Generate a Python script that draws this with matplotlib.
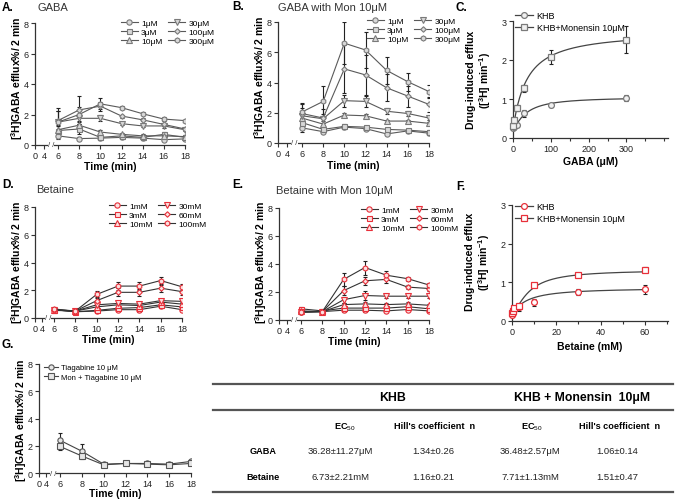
import numpy as np
import matplotlib
matplotlib.use('Agg')
import matplotlib.pyplot as plt
from matplotlib.lines import Line2D
from matplotlib.transforms import blended_transform_factory

plt.rcParams['font.family'] = ['Liberation Sans', 'DejaVu Sans']
plt.rcParams['mathtext.fontset'] = 'custom'
plt.rcParams['mathtext.rm'] = 'Liberation Sans'
plt.rcParams['mathtext.bf'] = 'Liberation Sans:bold'
plt.rcParams['mathtext.it'] = 'Liberation Sans:italic'

W, H = 676, 502

# ---------------- data ----------------
time = [6, 8, 10, 12, 14, 16, 18]
time_ticks = [0, 4, 6, 8, 10, 12, 14, 16, 18]

gaba_labels = ['1μM', '3μM', '10μM', '30μM', '100μM', '300μM']
# panel A: GABA (KHB)
gaba_khb = [
    [0.60, 0.42, 0.45, 0.50, 0.45, 0.35, 0.40],
    [0.95, 1.05, 0.50, 0.60, 0.50, 0.70, 0.50],
    [1.00, 1.30, 0.85, 0.70, 0.60, 0.60, 0.55],
    [1.50, 1.75, 1.75, 1.40, 1.25, 1.25, 1.00],
    [1.60, 2.30, 2.55, 1.90, 1.65, 1.35, 1.05],
    [1.50, 2.00, 2.70, 2.45, 2.05, 1.70, 1.60],
]
gaba_khb_err = [
    [0.20, 0.10, 0.10, 0.10, 0.10, 0.10, 0.10],
    [0.30, 0.30, 0.10, 0.10, 0.10, 0.15, 0.10],
    [0.30, 0.30, 0.15, 0.10, 0.10, 0.10, 0.10],
    [0.70, 0.50, 0.20, 0.10, 0.10, 0.15, 0.10],
    [0.80, 0.90, 0.30, 0.10, 0.10, 0.10, 0.05],
    [0.70, 0.50, 0.35, 0.10, 0.10, 0.15, 0.05],
]
# panel B: GABA with monensin
gaba_mon = [
    [1.00, 0.75, 1.05, 0.95, 0.60, 0.80, 0.65],
    [1.35, 0.90, 1.10, 1.05, 0.90, 0.85, 0.75],
    [1.65, 1.25, 1.85, 1.80, 1.45, 1.45, 1.30],
    [1.80, 1.60, 2.80, 2.75, 2.10, 1.95, 1.65],
    [1.95, 1.65, 4.90, 4.50, 3.65, 3.10, 2.55],
    [2.05, 2.75, 6.60, 6.15, 4.80, 4.05, 3.40],
]
gaba_mon_err = [
    [0.25, 0.10, 0.15, 0.10, 0.10, 0.10, 0.10],
    [0.30, 0.15, 0.15, 0.10, 0.10, 0.10, 0.10],
    [0.40, 0.20, 0.15, 0.15, 0.10, 0.10, 0.10],
    [0.50, 0.30, 0.40, 0.35, 0.20, 0.15, 0.10],
    [0.60, 0.60, 1.60, 1.30, 0.90, 0.70, 0.50],
    [0.60, 1.00, 1.40, 1.20, 0.90, 0.60, 0.45],
]

bet_labels = ['1mM', '3mM', '10mM', '30mM', '60mM', '100mM']
# panel D: betaine (KHB)
bet_khb = [
    [0.60, 0.45, 0.50, 0.60, 0.60, 0.85, 0.60],
    [0.60, 0.45, 0.55, 0.70, 0.75, 0.95, 0.80],
    [0.55, 0.50, 0.80, 0.95, 0.90, 1.15, 1.00],
    [0.60, 0.50, 0.95, 1.05, 1.00, 1.25, 1.20],
    [0.60, 0.50, 1.25, 1.85, 1.85, 2.15, 1.90],
    [0.65, 0.50, 1.70, 2.30, 2.30, 2.70, 2.25],
]
bet_khb_err = [
    [0.15, 0.10, 0.10, 0.10, 0.15, 0.15, 0.10],
    [0.15, 0.10, 0.10, 0.15, 0.15, 0.15, 0.15],
    [0.15, 0.10, 0.15, 0.15, 0.15, 0.15, 0.15],
    [0.15, 0.10, 0.15, 0.15, 0.15, 0.15, 0.15],
    [0.15, 0.10, 0.25, 0.30, 0.25, 0.25, 0.25],
    [0.15, 0.10, 0.25, 0.30, 0.30, 0.25, 0.20],
]
# panel E: betaine with monensin
bet_mon = [
    [0.55, 0.60, 0.70, 0.70, 0.65, 0.75, 0.65],
    [0.80, 0.65, 0.85, 0.85, 0.85, 0.95, 0.80],
    [0.65, 0.60, 1.10, 1.15, 1.10, 1.15, 1.05],
    [0.60, 0.60, 1.45, 1.75, 1.70, 1.70, 1.70],
    [0.55, 0.60, 2.10, 2.80, 2.90, 2.35, 2.25],
    [0.60, 0.60, 2.90, 3.75, 3.20, 2.95, 2.50],
]
bet_mon_err = [
    [0.10, 0.10, 0.10, 0.10, 0.10, 0.10, 0.10],
    [0.15, 0.10, 0.15, 0.15, 0.10, 0.15, 0.10],
    [0.15, 0.10, 0.15, 0.15, 0.15, 0.15, 0.10],
    [0.15, 0.10, 0.20, 0.30, 0.15, 0.15, 0.15],
    [0.15, 0.10, 0.30, 0.30, 0.25, 0.15, 0.15],
    [0.15, 0.10, 0.45, 0.50, 0.30, 0.15, 0.15],
]

# panel C: concentration response, GABA
gaba_conc = [1, 3, 10, 30, 100, 300]
gaba_resp_khb = [0.25, 0.28, 0.33, 0.63, 0.85, 1.02]
gaba_resp_khb_err = [0.05, 0.05, 0.05, 0.08, 0.05, 0.08]
gaba_resp_mon = [0.30, 0.45, 0.76, 1.27, 2.08, 2.52]
gaba_resp_mon_err = [0.05, 0.08, 0.08, 0.08, 0.18, 0.35]
gaba_fit_bottom = [0.25, 0.25]
gaba_fit_top = [1.05, 2.74]

# panel F: concentration response, betaine
bet_conc = [0.1, 0.3, 1, 3, 10, 30, 60]
bet_resp_khb = [0.15, 0.20, 0.30, 0.35, 0.48, 0.75, 0.82]
bet_resp_khb_err = [0.05, 0.05, 0.05, 0.08, 0.08, 0.08, 0.12]
bet_resp_mon = [0.20, 0.25, 0.33, 0.40, 0.92, 1.20, 1.33]
bet_resp_mon_err = [0.05, 0.05, 0.05, 0.05, 0.04, 0.05, 0.06]
bet_fit_bottom = [0.2, 0.2]
bet_fit_top = [0.86, 1.32]

# panel G: tiagabine
tia_labels = ['Tiagabine 10 μM', 'Mon + Tiagabine 10 μM']
tia = [
    [2.40, 1.60, 0.65, 0.70, 0.70, 0.65, 0.85],
    [1.95, 1.25, 0.60, 0.70, 0.65, 0.60, 0.70],
]
tia_err = [
    [0.55, 0.50, 0.10, 0.05, 0.10, 0.05, 0.10],
    [0.25, 0.20, 0.08, 0.05, 0.08, 0.05, 0.08],
]

# table
tab_groups = ['KHB', 'KHB + Monensin  10μM']
tab_cols = ['EC$_{50}$', "Hill's coefficient  n", 'EC$_{50}$', "Hill's coefficient  n"]
tab_rows = ['GABA', 'Betaine']
tab_vals = [
    ['36.28±11.27μM', '1.34±0.26', '36.48±2.57μM', '1.06±0.14'],
    ['6.73±2.21mM', '1.16±0.21', '7.71±1.13mM', '1.51±0.47'],
]
# Hill parameters (EC50, n) taken from the table
gaba_ec50 = [36.28, 36.48]
gaba_n = [1.34, 1.06]
bet_ec50 = [6.73, 7.71]
bet_n = [1.16, 1.51]

# ---------------- figure ----------------
fig = plt.figure(figsize=(W / 100, H / 100), dpi=100)

AX_COLOR = '#333333'


def add_ax(l, t, r, b):
    ax = fig.add_axes([l / W, 1 - b / H, (r - l) / W, (b - t) / H])
    for s in ['top', 'right']:
        ax.spines[s].set_visible(False)
    for s in ['left', 'bottom']:
        ax.spines[s].set_linewidth(0.9)
        ax.spines[s].set_color(AX_COLOR)
    ax.tick_params(labelsize=6.5, length=3, width=0.8, colors=AX_COLOR,
                   pad=1.5, labelcolor='#222222')
    ax.patch.set_alpha(0)
    return ax


def time_axis(ax, a, b):
    xs = np.array([0.0, 4.0, 6.0, 18.0])
    us = np.array([0.0, a, b, 1.0])

    def fwd(x):
        x = np.asarray(x, float)
        out = np.interp(x, xs, us)
        out = np.where(x < 0, x * (a / 4), out)
        out = np.where(x > 18, 1 + (x - 18) * (1 - b) / 12, out)
        return out

    def inv(u):
        u = np.asarray(u, float)
        out = np.interp(u, us, xs)
        out = np.where(u < 0, u * 4 / a, out)
        out = np.where(u > 1, 18 + (u - 1) * 12 / (1 - b), out)
        return out

    ax.set_xscale('function', functions=(fwd, inv))
    ax.set_xlim(0, 18)
    ax.set_xticks(time_ticks)
    ax.set_xticklabels([str(t) for t in time_ticks])
    ax.set_ylim(0, 8)
    ax.set_yticks([0, 2, 4, 6, 8])
    tr = blended_transform_factory(ax.transData, ax.transAxes)
    ax.text(5, 0, '/ /', transform=tr, ha='center', va='center', fontsize=5.5,
            color=AX_COLOR, clip_on=False, zorder=5,
            bbox=dict(fc='white', ec='none', pad=0.2))
    ax.set_xlabel('Time (min)', fontsize=7.5, fontweight='bold')
    ax.set_ylabel(r'[$^\mathbf{3}$H]GABA efflux%/ 2 min', fontsize=7.5,
                  fontweight='bold')


def label_coords(ax, l, t, r, b, xlab_top, ylab_right, ylab_center):
    ax.xaxis.set_label_coords(0.5, -(xlab_top - b) / (b - t))
    ax.yaxis.set_label_coords((ylab_right - l) / (r - l),
                              (b - ylab_center) / (b - t))


markers6 = ['o', 's', '^', 'v', 'D', 'h']
msizes6 = [3.8, 3.6, 4.0, 4.0, 2.8, 3.8]


def time_series(ax, data, err, labels, mcolor, mface, lcolor):
    handles = []
    for y, e, lab, m, ms in zip(data, err, labels, markers6, msizes6):
        ax.errorbar(time, y, yerr=e, marker=m, ms=ms, color=lcolor, lw=0.8,
                    mec=mcolor, mfc=mface, mew=0.8, ecolor='#222222',
                    elinewidth=0.8, capsize=1.2, capthick=0.8)
        handles.append(Line2D([], [], marker=m, ms=ms, color=lcolor, lw=0.8,
                              mec=mcolor, mfc=mface, mew=0.8, label=lab))
    return handles


def legend_at(ax, handles, x, y, ncol=1, fs=6, **kw):
    opts = dict(ncol=ncol, loc='upper left', bbox_to_anchor=(x / W, 1 - y / H),
                bbox_transform=fig.transFigure, fontsize=fs, frameon=False,
                handlelength=2.0, handletextpad=0.4, columnspacing=0.7,
                labelspacing=0.15, borderpad=0, borderaxespad=0)
    opts.update(kw)
    ax.legend(handles=handles, **opts)


GRAY_M = '#7a7a7a'
GRAY_F = '#d8d8d8'
GRAY_L = '#5a5a5a'
RED_M = '#e8303a'
RED_F = '#fbe0e0'
DARK_L = '#333333'

# ---- A ----
A = (35, 24, 185, 146)
axA = add_ax(*A)
time_axis(axA, 9 / 150, 23 / 150)
hA = time_series(axA, gaba_khb, gaba_khb_err, gaba_labels, GRAY_M, GRAY_F, GRAY_L)
legend_at(axA, hA, 121, 20, ncol=2)
label_coords(axA, *A, 162, 25, 78)

# ---- B ----
B = (278, 23, 429, 144)
axB = add_ax(*B)
time_axis(axB, 9 / 151, 24 / 151)
hB = time_series(axB, gaba_mon, gaba_mon_err, gaba_labels, GRAY_M, GRAY_F, GRAY_L)
legend_at(axB, hB, 367, 18, ncol=2)
label_coords(axB, *B, 161, 268, 77)

# ---- D ----
D = (35, 208, 182, 319)
axD = add_ax(*D)
time_axis(axD, 7 / 147, 19 / 147)
hD = time_series(axD, bet_khb, bet_khb_err, bet_labels, RED_M, RED_F, DARK_L)
legend_at(axD, hD, 109, 203, ncol=2)
label_coords(axD, *D, 335, 25, 262)

# ---- E ----
E = (279, 209, 429, 321)
axE = add_ax(*E)
time_axis(axE, 8 / 150, 22 / 150)
hE = time_series(axE, bet_mon, bet_mon_err, bet_labels, RED_M, RED_F, DARK_L)
legend_at(axE, hE, 361, 207, ncol=2)
label_coords(axE, *E, 337, 269, 262)

# ---- G ----
G = (39, 365, 191, 474)
axG = add_ax(*G)
time_axis(axG, 7 / 152, 21 / 152)
hG = []
for y, e, lab, m in zip(tia, tia_err, tia_labels, ['o', 's']):
    axG.errorbar(time, y, yerr=e, marker=m, ms=3.8, color='#444444', lw=0.8,
                 mec='#555555', mfc='#e6e6e6', mew=0.8, ecolor='#222222',
                 elinewidth=0.8, capsize=1.2, capthick=0.8)
    hG.append(Line2D([], [], marker=m, ms=3.8, color='#444444', lw=0.8,
                     mec='#555555', mfc='#e6e6e6', mew=0.8, label=lab))
legend_at(axG, hG, 44, 365, fs=5.5, handlelength=1.8, labelspacing=0.25)
label_coords(axG, *G, 489, 29, 420)


# ---- concentration-response panels ----
def hill(x, bottom, top, ec50, n):
    x = np.asarray(x, float)
    return bottom + (top - bottom) * x ** n / (ec50 ** n + x ** n)


def conc_panel(box, conc, khb, khb_err, mon, mon_err, bottoms, tops, ec50s,
               ns, xmax, xmajor, xminor, mcolor, mface, xlabel, leg_xy):
    ax = add_ax(*box)
    xx = np.linspace(0, conc[-1], 400)
    handles = []
    for y, e, m, lab, bo, to, ec, n in zip(
            [khb, mon], [khb_err, mon_err], ['o', 's'],
            ['KHB', 'KHB+Monensin 10μM'], bottoms, tops, ec50s, ns):
        ax.plot(xx, hill(xx, bo, to, ec, n), color='#444444', lw=0.9)
        ax.errorbar(conc, y, yerr=e, fmt='none', ecolor='#222222',
                    elinewidth=0.8, capsize=1.2, capthick=0.8)
        ax.plot(conc, y, ls='none', marker=m, ms=4.2, mec=mcolor, mfc=mface,
                mew=0.9, clip_on=False, zorder=4)
        handles.append(Line2D([], [], color='#444444', lw=0.9, marker=m,
                              ms=4.2, mec=mcolor, mfc=mface, mew=0.9, label=lab))
    ax.set_xlim(0, xmax)
    ax.set_ylim(0, 3)
    ax.set_yticks([0, 1, 2, 3])
    ax.set_xticks(xmajor)
    ax.set_xticks(xminor, minor=True)
    ax.tick_params(which='minor', length=2, width=0.8, colors=AX_COLOR)
    ax.set_xlabel(xlabel, fontsize=7.5, fontweight='bold')
    ax.set_ylabel('Drug-induced efflux\n' + r'([$^\mathbf{3}$H] min$^\mathbf{-1}$)',
                  fontsize=7.5, fontweight='bold', linespacing=1.1)
    legend_at(ax, handles, leg_xy[0], leg_xy[1], fs=6.5, labelspacing=0.3)
    return ax


C = (513, 22, 668, 139)
axC = conc_panel(C, gaba_conc, gaba_resp_khb, gaba_resp_khb_err, gaba_resp_mon,
                 gaba_resp_mon_err, gaba_fit_bottom, gaba_fit_top, gaba_ec50,
                 gaba_n, 410, [0, 100, 200, 300], [50, 150, 250, 350, 400],
                 GRAY_M, '#f0f0f0', 'GABA (μM)', (515, 12))
label_coords(axC, *C, 157, 493, 80)

F = (512, 206, 668, 322)
axF = conc_panel(F, bet_conc, bet_resp_khb, bet_resp_khb_err, bet_resp_mon,
                 bet_resp_mon_err, bet_fit_bottom, bet_fit_top, bet_ec50,
                 bet_n, 70.5, [0, 20, 40, 60], [10, 30, 50, 70],
                 RED_M, 'white', 'Betaine (mM)', (515, 203))
label_coords(axF, *F, 342, 492, 262)


# ---- panel titles ----
def ftext(x, y, s, **kw):
    fig.text(x / W, 1 - y / H, s, va='center', **kw)


for x, y, s in [(2, 8, 'A.'), (232, 7, 'B.'), (456, 8, 'C.'), (2, 185, 'D.'),
                (232, 185, 'E.'), (456, 187, 'F.'), (2, 345, 'G.')]:
    ftext(x, y, s, fontsize=8.5, fontweight='bold')
for x, y, s in [(38, 8, 'GABA'), (278, 8, 'GABA with Mon 10μM'),
                (36, 190, 'Betaine'), (276, 191, 'Betaine with Mon 10μM')]:
    ftext(x, y, s, fontsize=8, color='#333333')

# ---- table ----
for y, lw in [(385, 1.6), (411, 1.6), (493, 1.6)]:
    fig.add_artist(Line2D([213 / W, 673 / W], [1 - y / H] * 2, color='#555555',
                          lw=lw))
for x, s in zip([393, 582], tab_groups):
    ftext(x, 398, s, ha='center', fontsize=8.8, fontweight='bold')
for x, s in zip([345, 435, 532, 620], tab_cols):
    ftext(x, 427, s, ha='center', fontsize=6.6, fontweight='bold')
for r, (lab, vals) in enumerate(zip(tab_rows, tab_vals)):
    y = 452 + 26 * r
    ftext(263, y, lab, ha='center', fontsize=6.6, fontweight='bold')
    for x, s in zip([340, 433, 530, 617], vals):
        ftext(x, y, s, ha='center', fontsize=6.8, color='#222222')

fig.savefig('out.png', dpi=100)
